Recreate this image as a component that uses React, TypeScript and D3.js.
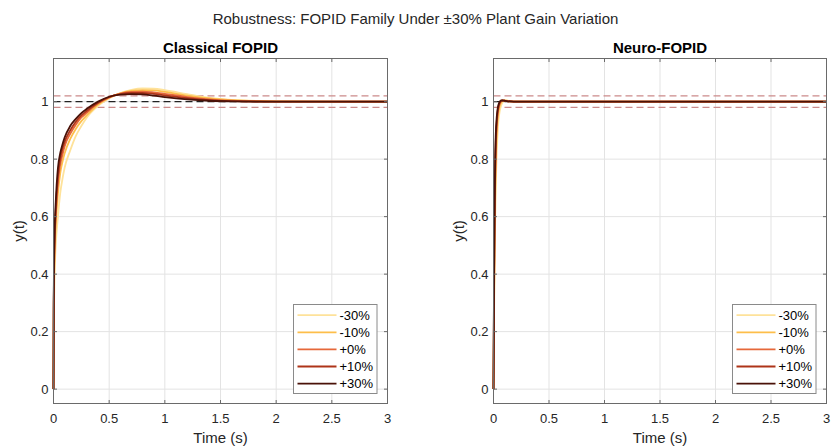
import React from "react";
import * as d3 from "d3";

// Step responses of the FOPID family for plant gain variations
const GAIN_LABELS = ["-30%", "-10%", "+0%", "+10%", "+30%"];
const GAIN_COLORS = ["#FEE29A", "#FDBE4A", "#E6683A", "#AE3419", "#4A1208"];

const TIME_CLASSICAL = [0, 0.002, 0.005, 0.01, 0.02, 0.04, 0.06, 0.08, 0.1, 0.15, 0.2, 0.25, 0.3, 0.4, 0.5, 0.6, 0.7, 0.8, 0.9, 1.0, 1.2, 1.4, 1.6, 2.0, 2.5, 3.0];
const CLASSICAL_M30 = [0, 0.2, 0.3, 0.4, 0.5, 0.6, 0.68, 0.73, 0.77, 0.83, 0.88, 0.915, 0.945, 0.985, 1.012, 1.03, 1.041, 1.046, 1.045, 1.04, 1.026, 1.013, 1.006, 1.001, 1.0, 1.0];
const CLASSICAL_M10 = [0, 0.25, 0.37, 0.47, 0.57, 0.68, 0.75, 0.79, 0.82, 0.87, 0.905, 0.932, 0.953, 0.99, 1.014, 1.029, 1.037, 1.04, 1.039, 1.034, 1.021, 1.011, 1.005, 1.001, 1.0, 1.0];
const CLASSICAL_P0 = [0, 0.27, 0.4, 0.5, 0.6, 0.72, 0.78, 0.815, 0.845, 0.888, 0.92, 0.945, 0.962, 0.994, 1.015, 1.028, 1.034, 1.035, 1.032, 1.027, 1.016, 1.008, 1.003, 1.0, 1.0, 1.0];
const CLASSICAL_P10 = [0, 0.28, 0.42, 0.52, 0.62, 0.74, 0.8, 0.835, 0.86, 0.9, 0.93, 0.952, 0.968, 0.996, 1.016, 1.026, 1.03, 1.03, 1.027, 1.022, 1.012, 1.005, 1.002, 1.0, 1.0, 1.0];
const CLASSICAL_P30 = [0, 0.3, 0.45, 0.55, 0.65, 0.77, 0.82, 0.85, 0.875, 0.915, 0.94, 0.96, 0.975, 1.0, 1.017, 1.024, 1.026, 1.025, 1.021, 1.016, 1.008, 1.003, 1.001, 1.0, 1.0, 1.0];

const TIME_NEURO = [0, 0.005, 0.01, 0.015, 0.02, 0.03, 0.04, 0.05, 0.06, 0.07, 0.08, 0.1, 0.12, 0.15, 0.2, 0.3, 0.5, 1, 2, 3];
const NEURO_M30 = [0, 0.25, 0.44, 0.58, 0.69, 0.83, 0.91, 0.952, 0.975, 0.988, 0.996, 1.003, 1.004, 1.002, 1.001, 1.0, 1.0, 1.0, 1.0, 1.0];
const NEURO_M10 = [0, 0.3, 0.52, 0.67, 0.78, 0.895, 0.95, 0.976, 0.99, 0.998, 1.002, 1.004, 1.003, 1.001, 1.0, 1.0, 1.0, 1.0, 1.0, 1.0];
const NEURO_P0 = [0, 0.34, 0.57, 0.72, 0.82, 0.92, 0.965, 0.985, 0.996, 1.002, 1.004, 1.003, 1.002, 1.001, 1.0, 1.0, 1.0, 1.0, 1.0, 1.0];
const NEURO_P10 = [0, 0.37, 0.6, 0.75, 0.85, 0.935, 0.973, 0.99, 0.999, 1.003, 1.004, 1.003, 1.002, 1.001, 1.0, 1.0, 1.0, 1.0, 1.0, 1.0];
const NEURO_P30 = [0, 0.4, 0.65, 0.8, 0.88, 0.95, 0.982, 0.995, 1.002, 1.004, 1.004, 1.003, 1.002, 1.001, 1.0, 1.0, 1.0, 1.0, 1.0, 1.0];

const X_TICKS = [0, 0.5, 1, 1.5, 2, 2.5, 3];
const Y_TICKS = [0, 0.2, 0.4, 0.6, 0.8, 1];
const REFERENCE = 1;
const BAND = [0.98, 1.02];

const FONT = "'Liberation Sans', Arial, Helvetica, sans-serif";
const AXIS_COLOR = "#262626";

type PanelProps = {
  title: string;
  left: number;
  right: number;
  time: number[];
  series: number[][];
  legendLeft: number;
};

const TOP = 58.5;
const BOTTOM = 403.5;

function Panel({ title, left, right, time, series, legendLeft }: PanelProps) {
  const x = d3.scaleLinear().domain([0, 3]).range([left, right]);
  const y = d3.scaleLinear().domain([-0.05, 1.15]).range([BOTTOM, TOP]);
  const tickLen = 3.5;
  const cx = (left + right) / 2;

  const lines = series.map((vals) =>
    d3
      .line<number>()
      .x((_, i) => x(time[i]))
      .y((v) => y(v))
      .curve(d3.curveMonotoneX)(vals) as string
  );

  const legendTop = 304.5;
  const legendW = 83.5;
  const legendH = 89;
  const rowH = 17.1;

  return (
    <g>
      <text
        x={cx}
        y={52.5}
        textAnchor="middle"
        fontFamily={FONT}
        fontWeight="bold"
        fontSize={15}
        fill="#000"
      >
        {title}
      </text>
      {/* grid */}
      {X_TICKS.map((t) => (
        <line key={"gx" + t} x1={x(t)} x2={x(t)} y1={TOP} y2={BOTTOM} stroke="#e3e3e3" strokeWidth={1} />
      ))}
      {Y_TICKS.map((t) => (
        <line key={"gy" + t} x1={left} x2={right} y1={y(t)} y2={y(t)} stroke="#e3e3e3" strokeWidth={1} />
      ))}
      {/* reference and tolerance band */}
      {BAND.map((b) => (
        <line key={"b" + b} x1={left} x2={right} y1={y(b)} y2={y(b)} stroke="#CC8A8A" strokeWidth={1.3} strokeDasharray="7 4" />
      ))}
      <line x1={left} x2={right} y1={y(REFERENCE)} y2={y(REFERENCE)} stroke="#222" strokeWidth={1.3} strokeDasharray="7 4" />
      {/* responses */}
      {lines.map((d, i) => (
        <path key={"l" + i} d={d} fill="none" stroke={GAIN_COLORS[i]} strokeWidth={1.8} strokeLinejoin="round" />
      ))}
      {/* axes box */}
      <rect x={left} y={TOP} width={right - left} height={BOTTOM - TOP} fill="none" stroke="#6a6a6a" strokeWidth={1} />
      {X_TICKS.map((t) => (
        <g key={"tx" + t}>
          <line x1={x(t)} x2={x(t)} y1={BOTTOM} y2={BOTTOM - tickLen} stroke="#6a6a6a" />
          <line x1={x(t)} x2={x(t)} y1={TOP} y2={TOP + tickLen} stroke="#6a6a6a" />
          <text x={x(t)} y={422.5} textAnchor="middle" fontFamily={FONT} fontSize={13} fill={AXIS_COLOR}>
            {String(t)}
          </text>
        </g>
      ))}
      {Y_TICKS.map((t) => (
        <g key={"ty" + t}>
          <line x1={left} x2={left + tickLen} y1={y(t)} y2={y(t)} stroke="#6a6a6a" />
          <line x1={right} x2={right - tickLen} y1={y(t)} y2={y(t)} stroke="#6a6a6a" />
          <text x={left - 5} y={y(t) + 4.5} textAnchor="end" fontFamily={FONT} fontSize={13} fill={AXIS_COLOR}>
            {String(t)}
          </text>
        </g>
      ))}
      <text x={cx} y={442.5} textAnchor="middle" fontFamily={FONT} fontSize={15} fill={AXIS_COLOR}>
        Time (s)
      </text>
      <text
        transform={`translate(${left - 30},${231}) rotate(-90)`}
        textAnchor="middle"
        fontFamily={FONT}
        fontSize={15}
        fill={AXIS_COLOR}
      >
        y(t)
      </text>
      {/* legend */}
      <rect x={legendLeft} y={legendTop} width={legendW} height={legendH} fill="#fff" stroke="#8a8a8a" strokeWidth={1} />
      {GAIN_LABELS.map((lab, i) => {
        const ry = legendTop + 10.7 + i * rowH;
        return (
          <g key={"lg" + i}>
            <line x1={legendLeft + 4} x2={legendLeft + 43} y1={ry} y2={ry} stroke={GAIN_COLORS[i]} strokeWidth={1.8} />
            <text x={legendLeft + 46} y={ry + 4.5} fontFamily={FONT} fontSize={13} fill="#000">
              {lab}
            </text>
          </g>
        );
      })}
    </g>
  );
}

export default function App() {
  const classical = [CLASSICAL_M30, CLASSICAL_M10, CLASSICAL_P0, CLASSICAL_P10, CLASSICAL_P30];
  const neuro = [NEURO_M30, NEURO_M10, NEURO_P0, NEURO_P10, NEURO_P30];
  return (
    <svg
      width={831}
      height={446}
      style={{ position: "absolute", left: 0, top: 0, background: "#fff" }}
    >
      <rect width={831} height={446} fill="#fff" />
      <text x={415.5} y={24} textAnchor="middle" fontFamily={FONT} fontSize={15} fill={AXIS_COLOR}>
        Robustness: FOPID Family Under ±30% Plant Gain Variation
      </text>
      <Panel title="Classical FOPID" left={53.5} right={387.5} time={TIME_CLASSICAL} series={classical} legendLeft={293.5} />
      <Panel title="Neuro-FOPID" left={493.5} right={826.5} time={TIME_NEURO} series={neuro} legendLeft={732.5} />
    </svg>
  );
}
